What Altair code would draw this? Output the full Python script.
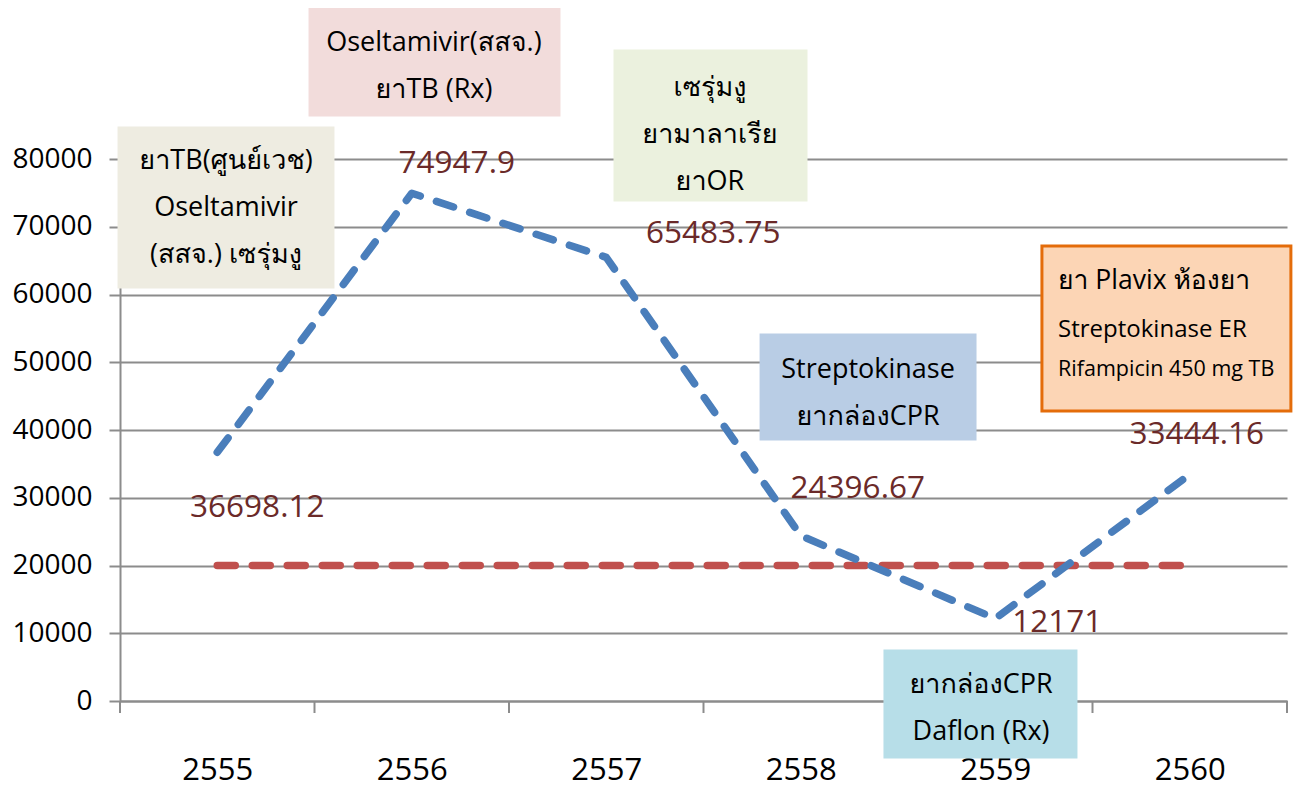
import altair as alt
import pandas as pd

# ---------------- data ----------------
years = ["2555", "2556", "2557", "2558", "2559", "2560"]
values = [36698.12, 74947.9, 65483.75, 24396.67, 12171, 33444.16]
target = [20000, 20000, 20000, 20000, 20000, 20000]
value_labels = ["36698.12", "74947.9", "65483.75", "24396.67", "12171", "33444.16"]

# annotation boxes (data space: category index / value)
box_x0 = [-0.505, 0.477, 2.045, 2.796, 3.433, 4.240]
box_x1 = [0.595, 1.757, 3.027, 3.896, 4.415, 5.520]
box_y0 = [84576, 102287, 95941, 54022, 7380, 67159]
box_y1 = [61107, 86494, 73948, 38671, -8270, 42804]
box_fill = ["#EEECE1", "#F2DCDB", "#EBF1DE", "#B9CDE5", "#B7DEE8", "#FCD5B5"]
box_stroke = ["#EEECE1", "#F2DCDB", "#EBF1DE", "#B9CDE5", "#B7DEE8", "#E46C0A"]

box_texts = [
    "ยาTB(ศูนย์เวช)\nOseltamivir\n(สสจ.) เซรุ่มงู",
    "Oseltamivir(สสจ.)\nยาTB (Rx)",
    "เซรุ่มงู\nยามาลาเรีย\nยาOR",
    "Streptokinase\nยากล่องCPR",
    "ยากล่องCPR\nDaflon (Rx)",
]
box_text_x = [0.045, 1.114, 2.533, 3.346, 3.927]
box_text_y = [79704, 97121, 90479, 48856, 2362]   # first line

orange_lines = ["ยา Plavix ห้องยา", "Streptokinase ER", "Rifampicin 450 mg TB"]
orange_x = 4.323
orange_y = [61992, 54760, 48856]
orange_sizes = [26.5, 24, 21.5]

# ---------------- layout / style ----------------
label_dx = [40, 45, 107, 57, 62, 7]
label_dy = [56, -29, -23, -47, 4, -39]

FONT = "Open Sans, Loma, Garuda, Norasi, Noto Sans Thai, Tahoma, sans-serif"
GRID = "#8C8C8C"
idx = list(range(len(years)))

label_expr = "[" + ",".join("'%s'" % y for y in years) + "][round(datum.value)]"

x_axis = alt.Axis(values=idx, labelExpr=label_expr, grid=False, ticks=False,
                  domainColor=GRID, domainWidth=2, labelFontSize=31, labelFont=FONT,
                  labelColor="#000000", labelPadding=54, title=None, zindex=0)
y_axis = alt.Axis(values=list(range(0, 80001, 10000)), format="d", grid=True,
                  gridColor=GRID, gridWidth=2, domainColor=GRID, domainWidth=2,
                  tickColor=GRID, tickWidth=2, tickSize=11, labelFontSize=28,
                  labelFont=FONT, labelColor="#000000", labelPadding=17, title=None,
                  zindex=0)
x_scale = alt.Scale(domain=[-0.5, 5.5], nice=False, zero=False)
y_scale = alt.Scale(domain=[0, 80000], nice=False)


def X(f):
    return alt.X(f, type="quantitative", scale=x_scale, axis=x_axis)


def Y(f):
    return alt.Y(f, type="quantitative", scale=y_scale, axis=y_axis)


df = pd.DataFrame({"idx": idx, "year": years, "value": values, "target": target,
                   "label": value_labels})

boxes = pd.DataFrame({"x0": box_x0, "x1": box_x1, "y0": box_y0, "y1": box_y1,
                      "fill": box_fill, "stroke": box_stroke})

bt = pd.DataFrame({"x": box_text_x, "y": box_text_y, "t": box_texts})

bounds = pd.DataFrame({"b": [i - 0.5 for i in range(len(years) + 1)],
                       "y0": [0] * (len(years) + 1),
                       "y1": [-1771] * (len(years) + 1)})

base = alt.Chart(df)

tick_rules = alt.Chart(bounds).mark_rule(color=GRID, strokeWidth=2).encode(
    x=X("b"), y=Y("y0"), y2="y1")

target_line = base.mark_line(color="#C0504D", strokeWidth=7.5, strokeDash=[18, 17],
                             strokeCap="round").encode(x=X("idx"), y=Y("target"))

value_line = base.mark_line(color="#4A7EBB", strokeWidth=7.5, strokeDash=[18, 17],
                            strokeCap="round", strokeJoin="round").encode(
    x=X("idx"), y=Y("value"))

rects = alt.Chart(boxes).mark_rect(strokeWidth=3).encode(
    x=X("x0"), x2="x1", y=Y("y0"), y2="y1",
    fill=alt.Fill("fill:N", scale=None), stroke=alt.Stroke("stroke:N", scale=None))

box_text = alt.Chart(bt).mark_text(font=FONT, fontSize=27, color="#000000",
                                   align="center", baseline="middle", lineBreak="\n",
                                   lineHeight=47).encode(
    x=X("x"), y=Y("y"), text="t:N")

layers = [tick_rules, target_line, value_line, rects, box_text]

for i in range(len(years)):
    sub = df.iloc[[i]]
    layers.append(alt.Chart(sub).mark_text(font=FONT, fontSize=31.5, color="#6B2A29",
                                           align="center", baseline="middle",
                                           dx=label_dx[i], dy=label_dy[i]).encode(
        x=X("idx"), y=Y("value"), text="label:N"))

for line, yy, fs in zip(orange_lines, orange_y, orange_sizes):
    od = pd.DataFrame({"x": [orange_x], "y": [yy], "t": [line]})
    layers.append(alt.Chart(od).mark_text(font=FONT, fontSize=fs, color="#000000",
                                          align="left", baseline="middle").encode(
        x=X("x"), y=Y("y"), text="t:N"))

chart = alt.layer(*layers).properties(
    width=1167, height=542,
    autosize=alt.AutoSizeParams(type="none"),
    padding={"left": 112, "top": 151, "right": 6, "bottom": 79},
    background="#FFFFFF",
).configure_view(stroke=None)

chart.save("out.html", embed_options={"renderer": "svg", "actions": False})
